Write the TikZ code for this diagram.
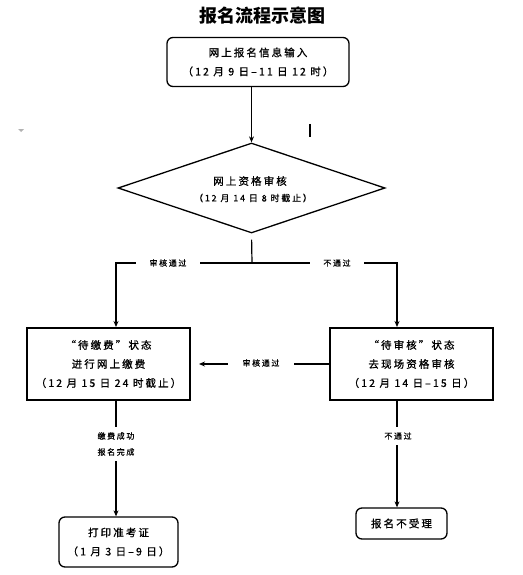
\documentclass[tikz,border=0pt]{standalone}
\usepackage{fontspec}
\newfontfamily\cjk[LetterSpace=20,FakeBold=1]{Noto Sans CJK SC}
\newfontfamily\cjklab[LetterSpace=20,FakeBold=0.6]{Noto Sans CJK SC}
\newfontfamily\cjktitle{Noto Sans CJK SC}
\usetikzlibrary{arrows.meta,shapes.geometric}
\begin{document}
\begin{tikzpicture}[x=1pt,y=-1pt,
  conn/.style={line width=1.2pt},
  arr/.style={conn,-{Stealth[length=6pt,width=5pt]}},
  rbox/.style={draw,line width=1.3pt,rounded corners=6pt,align=center,inner sep=0pt},
  sbox/.style={draw,line width=2pt,align=center,inner sep=0pt},
  txt/.style={font=\cjk\fontsize{10.5}{19}\selectfont},
  lab/.style={font=\cjklab\fontsize{8}{16}\selectfont,fill=white,inner ysep=2pt,align=center}
]
\useasboundingbox (0,0) rectangle (522,575);
\node[font=\cjktitle\bfseries\fontsize{18}{18}\selectfont] (title) at (262,16) {报名流程示意图};
\node[rbox,txt,minimum width=182,minimum height=49] (a) at (258,62) {网上报名信息输入\\（12 月 9 日–11 日 12 时）};
\node[diamond,draw,line width=1.3pt,minimum width=267,minimum height=90,inner sep=0pt] (d) at (251.5,188) {};
\node[txt] (dt1) at (250,181) {网上资格审核};
\node[font=\cjk\fontsize{9}{11}\selectfont] (dt2) at (253,198) {（12 月 14 日 8 时截止）};
\node[sbox,txt,minimum width=163,minimum height=72] (lb) at (108.5,364) {“待缴费”状态\\进行网上缴费\\（12 月 15 日 24 时截止）};
\node[sbox,txt,minimum width=163,minimum height=72] (rb) at (411.5,364) {“待审核”状态\\去现场资格审核\\（12 月 14 日–15 日）};
\node[rbox,txt,minimum width=119,minimum height=50] (c) at (118.5,542) {打印准考证\\（1 月 3 日–9 日）};
\node[rbox,txt,minimum width=91,minimum height=31] (e) at (401.5,523.5) {报名不受理};
\coordinate (j) at (252,263);
\coordinate (jl) at (116,263);
\coordinate (jr) at (397,263);
\draw[arr] (d.north |- a.south) -- (d.north);
\draw[conn,shorten <=6pt] (d.south) -- (j);
\draw[arr] (j) -- (jl) -- (jl |- lb.north);
\draw[arr] (j) -- (jr) -- (jr |- rb.north);
\node[lab,inner xsep=14pt] (l1) at (168,263) {审核通过};
\node[lab,inner xsep=13pt] (l2) at (337,263) {不通过};
\draw[arr,shorten >=8pt] (rb.west) -- (lb.east);
\node[lab,inner xsep=15pt] (l3) at (261,363) {审核通过};
\draw[arr] (lb.south -| jl) -- (jl |- c.north);
\node[lab,inner ysep=5pt] (l4) at (116,444) {缴费成功\\报名完成};
\draw[arr] (rb.south -| jr) -- (jr |- e.north);
\node[lab,inner ysep=5pt] (l5) at (398,436) {不通过};
\draw[line width=1.8pt] (310,124) -- (310,137);
\fill[gray!60] (18,129) -- (24,129) -- (21,132) -- cycle;
\end{tikzpicture}
\end{document}
